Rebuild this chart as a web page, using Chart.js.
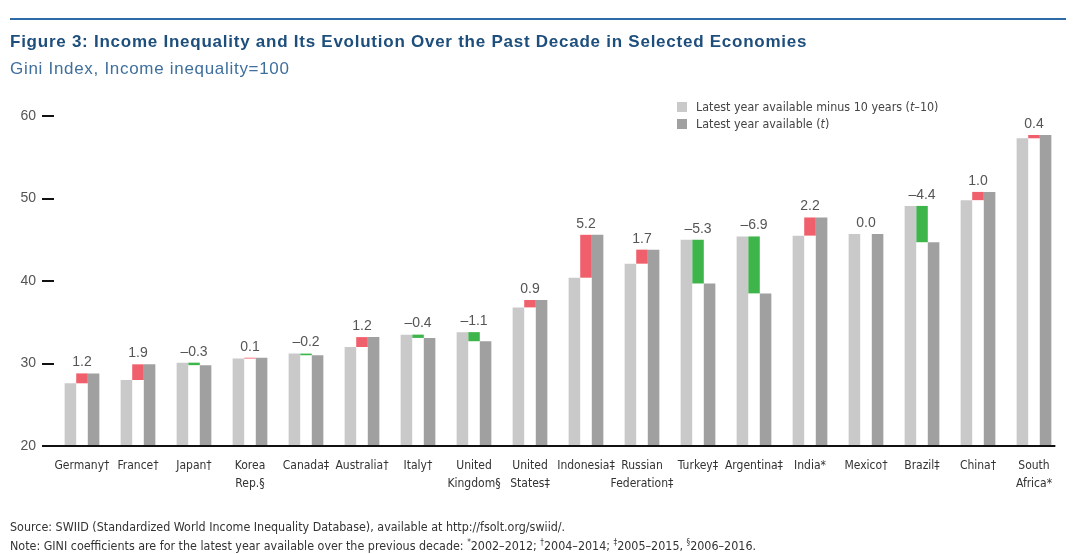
<!DOCTYPE html>
<html>
<head>
<meta charset="utf-8">
<script src="https://cdn.jsdelivr.net/npm/chart.js@4.4.1/dist/chart.umd.min.js"></script>
<style>
  html, body { margin: 0; padding: 0; background: #fff; }
  #wrap { position: relative; width: 1080px; height: 554px; overflow: hidden; font-family: 'Liberation Sans', Arial, sans-serif; }
  #topline { position: absolute; left: 10px; top: 18px; width: 1056px; height: 2px; background: #2e6aa6; }
  #title { position: absolute; left: 10px; top: 32px; font-size: 17px; letter-spacing: 0.75px; font-weight: bold; color: #1d4e7c; white-space: nowrap; }
  #subtitle { position: absolute; left: 10px; top: 59px; font-size: 17px; letter-spacing: 0.7px; color: #3f6f9c; white-space: nowrap; }
  #legend { position: absolute; left: 677px; top: 98px; font-family: 'DejaVu Sans Condensed', Arial, sans-serif; font-size: 12.4px; color: #444; }
  #legend div { height: 17px; line-height: 17px; white-space: nowrap; }
  #legend span.sw { display: inline-block; width: 10px; height: 10px; margin-right: 9px; vertical-align: -1px; }
  #notes { position: absolute; left: 10px; top: 517px; font-family: 'DejaVu Sans Condensed', Arial, sans-serif; font-size: 12.4px; color: #333; line-height: 19px; white-space: nowrap; }
  #notes sup { font-size: 8px; vertical-align: 5px; line-height: 0; }
  canvas { position: absolute; left: 0; top: 0; }
</style>
</head>
<body>
<div id="wrap">
  <canvas id="chart" width="1080" height="554"></canvas>
  <div id="topline"></div>
  <div id="title">Figure 3: Income Inequality and Its Evolution Over the Past Decade in Selected Economies</div>
  <div id="subtitle">Gini Index, Income inequality=100</div>
  <div id="legend">
    <div><span class="sw" style="background:#c9c9c9"></span>Latest year available minus 10 years (<i>t</i>–10)</div>
    <div><span class="sw" style="background:#a0a0a0"></span>Latest year available (<i>t</i>)</div>
  </div>
  <div id="notes">
    <div>Source: SWIID (Standardized World Income Inequality Database), available at http://fsolt.org/swiid/.</div>
    <div>Note: GINI coefficients are for the latest year available over the previous decade: <sup>*</sup>2002–2012; <sup>†</sup>2004–2014; <sup>‡</sup>2005–2015, <sup>§</sup>2006–2016.</div>
  </div>
</div>
<script>
// Gini index, t-10 vs t
const countries = [
  'Germany†', 'France†', 'Japan†', ['Korea', 'Rep.§'], 'Canada‡', 'Australia†', 'Italy†',
  ['United', 'Kingdom§'], ['United', 'States‡'], 'Indonesia‡', ['Russian', 'Federation‡'],
  'Turkey‡', 'Argentina‡', 'India*', 'Mexico†', 'Brazil‡', 'China†', ['South', 'Africa*']
];
const giniPrev = [27.6, 28.0, 30.1, 30.6, 31.2, 32.0, 33.5, 33.8, 36.8, 40.4, 42.1, 45.0, 45.4, 45.5, 45.7, 49.1, 49.8, 57.3];
const giniLast = [28.8, 29.9, 29.8, 30.7, 31.0, 33.2, 33.1, 32.7, 37.7, 45.6, 43.8, 39.7, 38.5, 47.7, 45.7, 44.7, 50.8, 57.7];
const changes  = [1.2, 1.9, -0.3, 0.1, -0.2, 1.2, -0.4, -1.1, 0.9, 5.2, 1.7, -5.3, -6.9, 2.2, 0.0, -4.4, 1.0, 0.4];
const yTicks = [20, 30, 40, 50, 60];

const LIGHT = '#c9c9c9';
const DARK = '#a0a0a0';
const UP = '#f0606c';
const DOWN = '#3db54a';
const NARROW = "'DejaVu Sans Condensed', Arial, sans-serif";

const fmt = v => (v < 0 ? '\u2013' + Math.abs(v).toFixed(1) : v.toFixed(1));

// change labels above each group + baseline
const changeLabels = {
  id: 'changeLabels',
  afterDatasetsDraw(chart) {
    const { ctx, scales: { y } } = chart;
    const meta = chart.getDatasetMeta(1);
    ctx.save();
    ctx.font = "14px 'Liberation Sans', Arial, sans-serif";
    ctx.fillStyle = '#555';
    ctx.textAlign = 'center';
    ctx.textBaseline = 'bottom';
    meta.data.forEach((el, i) => {
      const top = y.getPixelForValue(Math.max(giniPrev[i], giniLast[i]));
      ctx.fillText(fmt(changes[i]), el.x, top - 4);
    });
    // bottom axis line
    const last = chart.getDatasetMeta(2).data[countries.length - 1];
    ctx.strokeStyle = '#111';
    ctx.lineWidth = 2;
    ctx.beginPath();
    ctx.moveTo(chart.chartArea.left - 12, chart.chartArea.bottom);
    ctx.lineTo(last.x + last.width / 2 + 4, chart.chartArea.bottom);
    ctx.stroke();
    ctx.restore();
  }
};

new Chart(document.getElementById('chart').getContext('2d'), {
  type: 'bar',
  data: {
    labels: countries,
    datasets: [
      { label: 't-10', data: giniPrev, backgroundColor: LIGHT },
      {
        label: 'change',
        data: giniPrev.map((p, i) => [Math.min(p, giniLast[i]), Math.max(p, giniLast[i])]),
        backgroundColor: changes.map(c => (c >= 0 ? UP : DOWN)),
      },
      { label: 't', data: giniLast, backgroundColor: DARK },
    ]
  },
  options: {
    responsive: false,
    animation: false,
    events: [],
    categoryPercentage: 0.62,
    barPercentage: 1.0,
    layout: { padding: { top: 116, right: 18, bottom: 0, left: 0 } },
    plugins: {
      legend: { display: false },
      tooltip: { enabled: false },
    },
    scales: {
      x: {
        grid: { display: false, drawTicks: false },
        border: { display: false },
        ticks: {
          color: '#333',
          padding: 11,
          maxRotation: 0,
          autoSkip: false,
          font: { size: 12, family: NARROW, lineHeight: 1.5 },
        },
        afterFit: axis => { axis.height = 108; },
      },
      y: {
        min: 20,
        max: 60,
        afterBuildTicks: axis => { axis.ticks = yTicks.map(v => ({ value: v })); },
        grid: { drawOnChartArea: false, drawTicks: true, tickLength: 12, color: '#111', lineWidth: 2 },
        border: { display: false },
        ticks: {
          color: '#555',
          padding: 6,
          font: { size: 14, family: "'Liberation Sans', Arial, sans-serif" },
        },
        afterFit: axis => { axis.width = 54; },
      }
    }
  },
  plugins: [changeLabels]
});
</script>
</body>
</html>
